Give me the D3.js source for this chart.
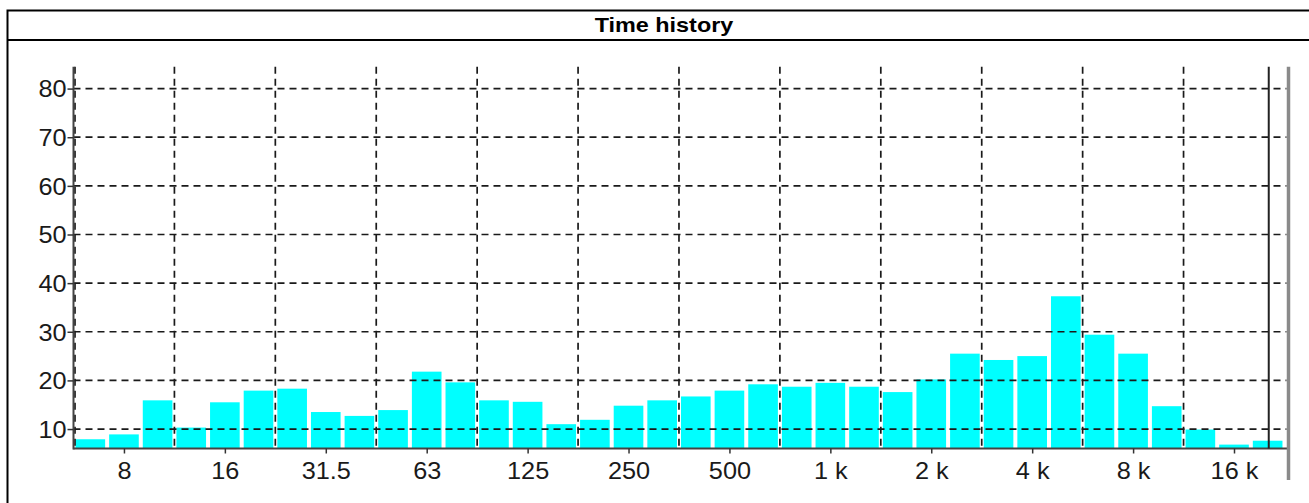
<!DOCTYPE html>
<html><head><meta charset="utf-8">
<script src="https://cdn.jsdelivr.net/npm/d3@7"></script>
<style>html,body{margin:0;padding:0;background:#fff;}svg{display:block;}</style>
</head><body>
<script>
// ---- data ----
const bandLabels = ["6.3","8","10","12.5","16","20","25","31.5","40","50","63","80","100","125","160","200","250","315","400","500","630","800","1k","1.25k","1.6k","2k","2.5k","3.15k","4k","5k","6.3k","8k","10k","12.5k","16k","20k"];
const bandValues = [7.9,8.9,15.9,10.3,15.5,17.9,18.3,13.5,12.7,13.9,21.8,19.6,15.9,15.6,11.0,11.9,14.8,15.9,16.7,17.9,19.2,18.7,19.5,18.7,17.6,20.2,25.5,24.2,25.0,37.3,29.4,25.5,14.7,9.9,6.8,7.6];
const xTickFreqs = [8,16,32,64,128,256,512,1024,2048,4096,8192,16384];
const xTickLabels = ["8","16","31.5","63","125","250","500","1 k","2 k","4 k","8 k","16 k"];
const yTicks = [10,20,30,40,50,60,70,80];
const markerFreq = 20800;
const chartTitle = "Time history";

const W = 1309, H = 503;
const svg = d3.select("body").append("svg").attr("width", W).attr("height", H);
svg.append("rect").attr("width", W).attr("height", H).attr("fill", "#fff");

const pL = 73.5, pR = 1288.5, pT = 66.7, pB = 448.5;
const x = d3.scaleLog().base(2).domain([8 * Math.SQRT1_2, 23822]).range([pL, pR]);
const y = d3.scaleLinear().domain([6, 84.5]).range([pB, pT]);
const font = "Liberation Sans, Arial, sans-serif";

// outer frame
svg.append("rect").attr("x", 7.5).attr("y", 10.5).attr("width", 1330).attr("height", 520)
  .attr("fill", "none").attr("stroke", "#000").attr("stroke-width", 2);
svg.append("line").attr("x1", 7.5).attr("x2", 1340).attr("y1", 40).attr("y2", 40)
  .attr("stroke", "#000").attr("stroke-width", 2);
svg.append("text").attr("transform", "translate(664,32) scale(1.17,1)")
  .attr("text-anchor", "middle").attr("font-family", font)
  .attr("font-weight", "bold").attr("font-size", 20).attr("fill", "#000").text(chartTitle);

// bars
const centers = bandLabels.map((d, i) => 8 * Math.pow(2, (i - 1) / 3));
svg.append("g").selectAll("rect").data(bandValues).join("rect")
  .attr("x", (d, i) => x(centers[i] * Math.pow(2, -1 / 6)) + 2)
  .attr("width", (d, i) => x(centers[i] * Math.pow(2, 1 / 6)) - x(centers[i] * Math.pow(2, -1 / 6)) - 4)
  .attr("y", d => y(d))
  .attr("height", d => pB - y(d))
  .attr("fill", "#00ffff");

// grid
const grid = svg.append("g").attr("stroke", "#1a1a1a").attr("stroke-width", 1.7).attr("stroke-dasharray", "7,5").attr("fill", "none");
grid.selectAll("line.h").data(yTicks).join("line").attr("class", "h")
  .attr("x1", pL).attr("x2", pR - 2).attr("y1", d => y(d)).attr("y2", d => y(d));
const vGrid = xTickFreqs.slice(0, 11).map(f => f * Math.SQRT2);
grid.selectAll("line.v").data(vGrid).join("line").attr("class", "v")
  .attr("x1", d => x(d)).attr("x2", d => x(d)).attr("y1", pT).attr("y2", pB);
grid.append("line").attr("x1", pL + 1.5).attr("x2", pL + 1.5).attr("y1", pT).attr("y2", pB);

// axes lines
svg.append("line").attr("x1", pL).attr("x2", pL).attr("y1", pT).attr("y2", pB + 1)
  .attr("stroke", "#444").attr("stroke-width", 2);
svg.append("line").attr("x1", pL).attr("x2", pR).attr("y1", pB).attr("y2", pB)
  .attr("stroke", "#444").attr("stroke-width", 2);
// marker line
svg.append("line").attr("x1", x(markerFreq)).attr("x2", x(markerFreq)).attr("y1", pT).attr("y2", pB)
  .attr("stroke", "#222").attr("stroke-width", 2);
// right grey border
svg.append("line").attr("x1", pR).attr("x2", pR).attr("y1", pT).attr("y2", 480)
  .attr("stroke", "#8a8a8a").attr("stroke-width", 3.5);

// y axis
const yAxis = d3.axisLeft(y).tickValues(yTicks).tickSize(6).tickPadding(1).tickFormat(d3.format("d"));
const gy = svg.append("g").attr("transform", `translate(${pL},0)`).call(yAxis);
gy.select(".domain").remove();
gy.selectAll(".tick line").attr("stroke", "#333").attr("stroke-width", 1.5);
gy.selectAll(".tick text").attr("font-family", font).attr("font-size", 23)
  .attr("fill", "#1a1a1a").attr("dy", "0.36em")
  .attr("transform", "translate(-7,0) scale(1.1,1)").attr("x", 0).attr("text-anchor", "end");

// x axis
const xAxis = d3.axisBottom(x).tickValues(xTickFreqs).tickSize(5).tickPadding(5)
  .tickFormat((d, i) => xTickLabels[i]);
const gx = svg.append("g").attr("transform", `translate(0,${pB})`).call(xAxis);
gx.select(".domain").remove();
gx.selectAll(".tick line").attr("stroke", "#333").attr("stroke-width", 1.5);
gx.selectAll(".tick text").attr("font-family", font).attr("font-size", 23)
  .attr("fill", "#1a1a1a").attr("y", 0).attr("dy", 0)
  .attr("transform", "translate(0,30) scale(1.1,1)");
</script>
</body></html>
